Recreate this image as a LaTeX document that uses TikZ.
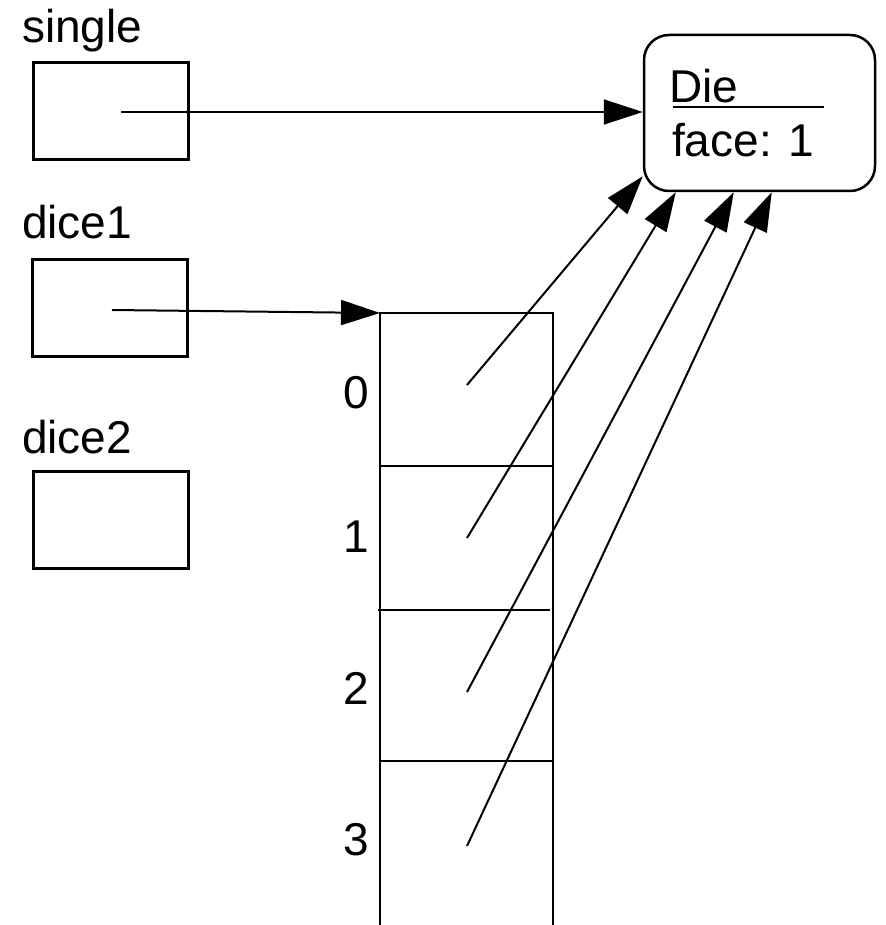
\documentclass[tikz,border=0pt]{standalone}
\usepackage{fontspec}
\setmainfont{Liberation Sans}
\usetikzlibrary{arrows.meta,calc}
\tikzset{
  varbox/.style={draw,line width=3pt,minimum width=155pt,minimum height=97pt,inner sep=0pt},
  objbox/.style={draw,line width=2.5pt,rounded corners=25pt,inner sep=0pt},
  lbl/.style={inner sep=0pt,anchor=base west},
  idx/.style={inner sep=0pt,anchor=center},
  ptr/.style={line width=2pt,-{Triangle[length=39pt,width=25pt]}},
  cellline/.style={line width=2pt},
}
\begin{document}
\begin{tikzpicture}[x=1pt,y=-1pt,font=\fontsize{46}{55}\selectfont]
\useasboundingbox (0,0) rectangle (885,925);

% reference variables
\node[lbl] (lsingle) at (22,43) {single};
\node[varbox] (single) at (110.5,111.5) {};
\node[lbl] (ldice1) at (22,239) {dice1};
\node[varbox] (dice1) at (109.5,308) {};
\node[lbl] (ldice2) at (22,453) {dice2};
\node[varbox] (dice2) at (110.5,520) {};

% the Die object
\node[objbox,minimum width=231pt,minimum height=156pt] (die) at (759.5,113) {};
\node[lbl] (dname) at (669,103) {Die};
\node[lbl] (dface) at (672,157) {face: 1};
\draw[line width=2pt] (673,107) -- (824,107);

% the array
\coordinate (arrtop) at (380,313);
\draw[cellline] (380,925) -- (arrtop) -- (553,313) -- (553,925);
\draw[cellline] (380,466) -- (553,466);
\draw[cellline] (378,610) -- (550,610);
\draw[cellline] (380,761) -- (553,761);
\node[idx] (i0) at (356,393) {0};
\node[idx] (i1) at (356,537) {1};
\node[idx] (i2) at (356,688) {2};
\node[idx] (i3) at (356,840) {3};

% pointer origins
\coordinate (psingle) at (121,112);
\coordinate (pdice1) at (112,310);
\coordinate (c0) at (467,385);
\coordinate (c1) at (467,538);
\coordinate (c2) at (467,692);
\coordinate (c3) at (467,846);

% pointer targets on the Die box
\coordinate (t0) at ($(die.south west)+(0,-16)$);
\coordinate (t1) at ($(die.south west)+(33,0)$);
\coordinate (t2) at ($(die.south west)+(91,0)$);
\coordinate (t3) at ($(die.south west)+(129,0)$);

% pointers
\draw[ptr] (psingle) -- (psingle -| die.west);
\draw[ptr] (pdice1) -- (arrtop);
\draw[ptr] (c0) -- (t0);
\draw[ptr] (c1) -- (t1);
\draw[ptr] (c2) -- (t2);
\draw[ptr] (c3) -- (t3);
\end{tikzpicture}
\end{document}
